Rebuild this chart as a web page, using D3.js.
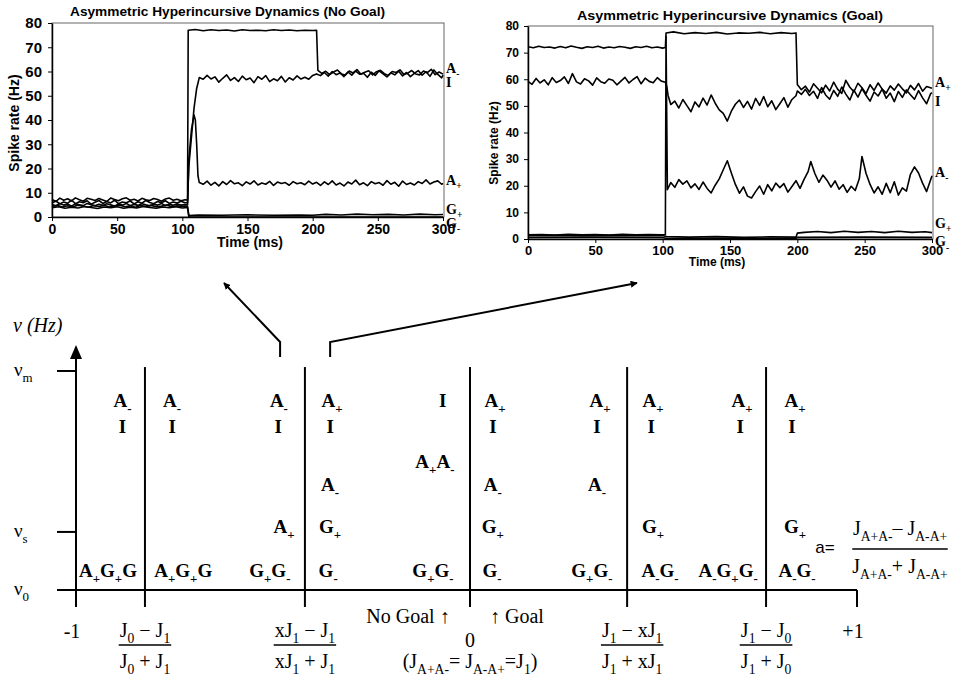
<!DOCTYPE html>
<html lang="en">
<head>
<meta charset="UTF-8">
<title>Asymmetric Hyperincursive Dynamics</title>
<script src="https://d3js.org/d3.v7.min.js"></script>
<style>
  body { margin: 0; background: #fff; }
  svg { display: block; }
  .tick text { font-family: "Liberation Sans", Arial, sans-serif; font-weight: bold; fill: #000; }
  .domain, .tick line { stroke: #000; }
  .trace { fill: none; stroke: #000; stroke-width: 1.6px; stroke-linejoin: round; }
  .serif { font-family: "Liberation Serif", "Times New Roman", serif; }
  .sans { font-family: "Liberation Sans", Arial, sans-serif; }
</style>
</head>
<body>
<svg width="956" height="679"></svg>
<script>
// ---- top-left panel: no goal (time ms, rate Hz) ----
const ngAminus = [[0,7.2],[3,6.4],[6,7.8],[9,6.9],[12,7.5],[15,6.6],[18,7.9],[21,7.1],[24,6.5],[27,7.7],[30,7.3],[33,6.8],[36,7.6],[39,7.0],[42,6.4],[45,7.8],[48,7.2],[51,6.7],[54,7.5],[57,7.9],[60,6.9],[63,7.3],[66,6.6],[69,7.7],[72,7.1],[75,6.8],[78,7.6],[81,7.2],[84,6.5],[87,7.4],[90,7.8],[93,6.9],[96,7.3],[99,6.7],[102,7.1],[104,7.0],[104.5,77],[110,77.3],[116,76.8],[122,77.2],[128,76.9],[134,77.1],[140,76.7],[146,77.2],[152,76.9],[158,77.0],[164,76.8],[170,77.2],[176,76.9],[182,77.1],[188,76.8],[194,77.0],[200,76.9],[203,77],[204,60.5],[207,59.2],[210,60.1],[213,58.7],[216,59.8],[219,60.6],[222,59.0],[225,58.5],[228,60.2],[231,59.4],[234,60.8],[237,58.9],[240,59.7],[243,60.3],[246,58.6],[249,59.9],[252,60.5],[255,59.1],[258,58.4],[261,60.0],[264,59.6],[267,60.7],[270,58.8],[273,59.3],[276,60.4],[279,59.0],[282,58.6],[285,60.2],[288,59.5],[291,60.9],[294,58.7],[297,59.8],[300,58.9]];
const ngI = [[0,5.8],[3,6.6],[6,5.4],[9,6.2],[12,5.7],[15,6.9],[18,5.5],[21,6.3],[24,5.9],[27,6.7],[30,5.3],[33,6.1],[36,6.8],[39,5.6],[42,6.4],[45,5.8],[48,6.9],[51,5.5],[54,6.2],[57,5.9],[60,6.6],[63,5.4],[66,6.3],[69,5.7],[72,6.8],[75,6.0],[78,5.5],[81,6.4],[84,5.9],[87,6.7],[90,5.6],[93,6.2],[96,5.8],[99,6.5],[102,5.9],[104,6],[105,21],[107,33],[109,45],[111,53],[113,57.5],[116,56.8],[119,58.4],[122,56.9],[125,57.8],[128,55.6],[131,57.2],[134,58.6],[137,56.3],[140,57.5],[143,55.9],[146,58.1],[149,56.6],[152,57.3],[155,55.4],[158,57.9],[161,56.8],[164,58.3],[167,55.8],[170,57.0],[173,56.2],[176,58.0],[179,55.7],[182,57.4],[185,56.5],[188,58.2],[191,56.9],[194,57.6],[197,56.8],[200,58.4],[203,59.0],[206,58.3],[209,59.6],[212,58.1],[215,60.0],[218,58.7],[221,59.4],[224,57.9],[227,59.8],[230,58.5],[233,60.2],[236,58.9],[239,59.3],[242,57.6],[245,59.7],[248,58.4],[251,60.3],[254,59.0],[257,57.8],[260,59.5],[263,58.6],[266,60.1],[269,58.2],[272,59.6],[275,57.9],[278,59.2],[281,60.4],[284,58.5],[287,59.9],[290,58.0],[293,60.6],[296,58.8],[299,57.4],[300,58.5]];
const ngAplus = [[0,5.2],[3,4.6],[6,5.6],[9,4.9],[12,5.4],[15,4.5],[18,5.5],[21,5.0],[24,4.7],[27,5.6],[30,5.1],[33,4.6],[36,5.3],[39,4.8],[42,5.5],[45,5.0],[48,4.5],[51,5.4],[54,4.9],[57,5.6],[60,4.7],[63,5.2],[66,4.8],[69,5.5],[72,5.0],[75,4.6],[78,5.3],[81,4.9],[84,5.6],[87,4.7],[90,5.2],[93,4.8],[96,5.4],[99,4.9],[102,5.1],[104,5.0],[105,24],[107,36],[109,42],[110,40],[111,30],[112,17],[113,14.2],[116,13.5],[119,14.8],[122,13.1],[125,14.3],[128,12.8],[131,14.6],[134,13.4],[137,15.0],[140,13.7],[143,14.1],[146,12.9],[149,14.5],[152,13.6],[155,14.9],[158,13.2],[161,14.0],[164,13.5],[167,14.7],[170,13.0],[173,14.4],[176,13.8],[179,14.2],[182,13.1],[185,14.6],[188,13.7],[191,14.1],[194,13.3],[197,14.8],[200,13.6],[203,14.3],[206,13.0],[209,14.5],[212,13.4],[215,14.9],[218,13.2],[221,14.0],[224,12.8],[227,14.4],[230,13.6],[233,15.2],[236,13.3],[239,14.1],[242,12.9],[245,14.6],[248,13.7],[251,14.2],[254,13.1],[257,15.0],[260,13.5],[263,14.3],[266,12.7],[269,14.8],[272,13.4],[275,14.0],[278,13.2],[281,14.6],[284,13.8],[287,15.3],[290,13.6],[293,14.4],[296,14.9],[299,13.5],[300,13.9]];
const ngGplus = [[0,4.3],[4,4.8],[8,4.1],[12,4.6],[16,4.2],[20,4.9],[24,4.4],[28,4.0],[32,4.7],[36,4.3],[40,4.8],[44,4.1],[48,4.5],[52,4.9],[56,4.2],[60,4.6],[64,4.0],[68,4.7],[72,4.3],[76,4.8],[80,4.2],[84,4.5],[88,4.9],[92,4.1],[96,4.6],[100,4.3],[104,4.4],[105,0.6],[112,0.8],[130,0.7],[150,0.9],[170,0.7],[190,0.8],[200,0.7],[210,1.1],[222,0.8],[234,1.2],[246,0.9],[258,1.1],[270,0.8],[282,1.2],[294,0.9],[300,1.0]];
const ngGminus = [[0,3.8],[5,4.2],[10,3.6],[15,4.0],[20,3.7],[25,4.3],[30,3.9],[35,3.5],[40,4.1],[45,3.8],[50,4.2],[55,3.6],[60,4.0],[65,3.7],[70,4.3],[75,3.9],[80,3.6],[85,4.1],[90,3.8],[95,4.2],[100,3.7],[104,3.9],[105,0],[300,0]];

// ---- top-right panel: goal ----
const gAplus = [[0,72.2],[4,71.8],[8,72.4],[12,71.9],[16,72.1],[20,71.7],[24,72.3],[28,71.8],[32,72.5],[36,72.0],[40,71.6],[44,72.2],[48,71.9],[52,72.4],[56,71.7],[60,72.1],[64,71.8],[68,72.3],[72,72.0],[76,71.6],[80,72.2],[84,71.9],[88,72.4],[92,71.8],[96,72.1],[100,71.7],[102,71.9],[102.5,77.4],[108,77.8],[116,77.1],[124,77.5],[132,77.2],[140,77.6],[148,77.0],[156,77.4],[164,77.3],[172,77.6],[180,77.1],[188,77.5],[196,77.2],[199,77.4],[200,58],[203,56.1],[206,57.4],[209,55.2],[212,58.3],[215,56.6],[218,54.9],[221,57.8],[224,55.6],[227,58.9],[230,56.2],[233,54.7],[236,59.6],[239,57.0],[242,55.3],[245,58.5],[248,56.8],[251,54.6],[254,57.9],[257,55.8],[260,58.6],[263,56.3],[266,54.8],[269,57.5],[272,55.9],[275,58.2],[278,56.4],[281,54.9],[284,57.7],[287,56.0],[290,58.4],[293,55.5],[296,57.3],[300,56.6]];
const gI = [[0,59.2],[3,58.1],[6,60.3],[9,58.6],[12,59.8],[15,57.9],[18,60.6],[21,58.8],[24,59.5],[27,60.9],[30,58.4],[33,62.1],[36,59.0],[39,58.2],[42,60.2],[45,59.4],[48,57.8],[51,60.5],[54,59.1],[57,58.5],[60,60.1],[63,59.6],[66,57.9],[69,59.3],[72,60.7],[75,58.6],[78,59.9],[81,61.0],[84,58.3],[87,60.4],[90,59.2],[93,58.7],[96,60.6],[99,59.3],[102,58.9],[103,57.5],[104,54],[106,50.5],[109,51.8],[112,49.2],[115,52.4],[118,50.1],[121,47.8],[124,51.5],[127,49.6],[130,52.9],[133,50.3],[136,54.1],[139,51.0],[142,48.5],[145,47.2],[148,44.3],[151,48.0],[154,50.6],[157,52.2],[160,49.4],[163,51.7],[166,48.8],[169,52.8],[172,50.2],[175,53.5],[178,49.7],[181,51.9],[184,48.6],[187,50.8],[190,53.1],[193,49.5],[196,52.4],[199,53.8],[200,55.6],[203,54.3],[206,56.2],[209,53.9],[212,55.5],[215,52.8],[218,56.9],[221,54.1],[224,52.5],[227,55.8],[230,53.6],[233,57.1],[236,54.4],[239,52.2],[242,55.9],[245,53.3],[248,56.5],[251,54.0],[254,51.8],[257,55.2],[260,53.7],[263,56.3],[266,52.9],[269,54.8],[272,51.6],[275,55.4],[278,53.2],[281,56.0],[284,54.2],[287,52.5],[290,55.7],[293,53.0],[296,50.8],[299,54.6],[300,55.0]];
const gAminus = [[0,1.6],[10,1.7],[20,1.5],[30,1.8],[40,1.6],[50,1.7],[60,1.5],[70,1.8],[80,1.6],[90,1.7],[100,1.6],[102,1.7],[102.5,76],[103.5,18.5],[106,21.2],[109,19.4],[112,22.3],[115,20.6],[118,21.8],[121,19.2],[124,20.7],[127,18.6],[130,21.4],[133,19.0],[136,17.3],[139,20.2],[142,22.6],[145,26.0],[148,29.4],[151,24.8],[154,20.5],[157,17.2],[160,19.6],[163,16.1],[166,15.4],[169,17.8],[172,19.9],[175,16.8],[178,20.4],[181,18.1],[184,21.0],[187,19.3],[190,20.8],[193,17.6],[196,19.7],[199,21.9],[202,19.0],[205,22.4],[208,25.3],[210,29.1],[213,24.6],[216,21.3],[219,24.0],[222,22.1],[225,19.5],[228,21.8],[231,18.7],[234,20.4],[237,17.5],[240,19.8],[243,18.2],[246,22.6],[248,31.0],[251,24.7],[254,20.5],[257,17.3],[260,19.6],[263,16.8],[266,20.9],[269,17.4],[272,21.5],[275,16.5],[278,19.2],[281,18.0],[284,24.3],[287,27.1],[290,24.8],[293,21.0],[296,17.8],[300,23.8]];
const gGplus = [[0,1.3],[20,1.4],[40,1.2],[60,1.4],[80,1.3],[100,1.3],[103,0.9],[120,0.7],[140,0.9],[160,0.6],[180,0.8],[199,0.7],[200,2.2],[205,2.5],[215,2.8],[225,2.4],[235,2.9],[245,2.5],[255,2.8],[265,2.4],[275,2.9],[285,2.5],[295,2.7],[300,2.4]];
const gGminus = [[0,0.6],[50,0.7],[100,0.6],[103,0.2],[150,0.3],[199,0.2],[200,0.6],[250,0.7],[300,0.6]];

const timeTicks = [0, 50, 100, 150, 200, 250, 300];
const rateTicks = [0, 10, 20, 30, 40, 50, 60, 70, 80];
// trace end labels: [rate level, label]
const ngLabels = [[59.4, "A_-"], [53.6, "I"], [13.2, "A_+"], [1.2, "G_+"], [-4.6, "G_-"]];
const gLabels = [[57.1, "A_+"], [50.0, "I"], [23.3, "A_-"], [4.2, "G_+"], [-2.8, "G_-"]];

// ---- bottom diagram: asymmetry a in [-1, 1], rate levels ----
const dividers = [-0.825, -0.419, 0, 0.406, 0.765];
const rateLevels = [["ν_m", 8.94], ["ν_s", 2.37], ["ν_0", 0]];
const stateLabels = [
  [-0.882, 7.47, "A_-"], [-0.882, 6.41, "I"], [-0.919, 0.53, "A_+G_+G"],
  [-0.756, 7.47, "A_-"], [-0.756, 6.41, "I"], [-0.728, 0.53, "A_+G_+G"],
  [-0.485, 7.47, "A_-"], [-0.487, 6.41, "I"], [-0.472, 2.33, "A_+"], [-0.508, 0.53, "G_+G_-"],
  [-0.350, 7.47, "A_+"], [-0.355, 6.41, "I"], [-0.355, 4.04, "A_-"], [-0.355, 2.33, "G_+"], [-0.360, 0.53, "G_-"],
  [-0.069, 7.47, "I"], [-0.089, 4.98, "A_+A_-"], [-0.094, 0.53, "G_+G_-"],
  [0.065, 7.47, "A_+"], [0.059, 6.41, "I"], [0.059, 4.04, "A_-"], [0.059, 2.33, "G_+"], [0.057, 0.53, "G_-"],
  [0.336, 7.47, "A_+"], [0.328, 6.41, "I"], [0.328, 4.04, "A_-"], [0.315, 0.53, "G_+G_-"],
  [0.473, 7.47, "A_+"], [0.468, 6.41, "I"], [0.473, 2.33, "G_+"], [0.491, 0.53, "A_-G_-"],
  [0.703, 7.47, "A_+"], [0.698, 6.41, "I"], [0.667, 0.53, "A_-G_+G_-"],
  [0.840, 7.47, "A_+"], [0.832, 6.41, "I"], [0.840, 2.33, "G_+"], [0.845, 0.53, "A_-G_-"]
];
// fraction labels under the axis: [a, numerator, denominator]
const boundaryLabels = [
  [-0.825, "J_0 − J_1", "J_0 + J_1"],
  [-0.419, "xJ_1 − J_1", "xJ_1 + J_1"],
  [0.419, "J_1 − xJ_1", "J_1 + xJ_1"],
  [0.765, "J_1 − J_0", "J_1 + J_0"]
];
const endLabels = [[-1, "-1"], [1, "+1"]];

const svg = d3.select("svg");

// text with _x / _{xyz} subscripts
function rich(t, str, fs) {
  const toks = [];
  for (let i = 0; i < str.length; i++) {
    if (str[i] === "_") {
      if (str[i + 1] === "{") {
        const j = str.indexOf("}", i);
        toks.push({ t: str.slice(i + 2, j), sub: true });
        i = j;
      } else {
        toks.push({ t: str[i + 1], sub: true });
        i++;
      }
    } else {
      const last = toks[toks.length - 1];
      if (last && !last.sub) last.t += str[i];
      else toks.push({ t: str[i], sub: false });
    }
  }
  let cur = false;
  toks.forEach(k => {
    const ts = t.append("tspan").text(k.t);
    if (k.sub !== cur) ts.attr("dy", k.sub ? fs * 0.3 : -fs * 0.3);
    if (k.sub) ts.attr("font-size", fs * 0.68);
    cur = k.sub;
  });
  return t;
}

function panel(p) {
  const x = d3.scaleLinear().domain([0, 300]).range([p.x0, p.x1]);
  const y = d3.scaleLinear().domain([0, 80]).range([p.y0, p.y1]);
  const g = svg.append("g");

  // frame
  g.append("rect")
    .attr("x", p.x0).attr("y", p.y1)
    .attr("width", p.x1 - p.x0 + 1).attr("height", p.y0 - p.y1)
    .attr("fill", "none").attr("stroke", "#666").attr("stroke-width", 1);

  const line = d3.line().x(d => x(d[0])).y(d => y(d[1]));
  p.series.forEach(s => {
    g.append("path").attr("class", "trace").attr("d", line(s));
  });

  const ax = g.append("g").attr("transform", `translate(0,${p.y0})`)
    .call(d3.axisBottom(x).tickValues(timeTicks).tickSize(4).tickSizeOuter(0).tickPadding(3));
  ax.selectAll("text").attr("font-size", p.xfs);
  const ay = g.append("g").attr("transform", `translate(${p.x0},0)`)
    .call(d3.axisLeft(y).tickValues(rateTicks).tickSize(4).tickSizeOuter(0).tickPadding(p.ypad));
  ay.selectAll("text").attr("font-size", p.yfs);
  g.selectAll(".domain").attr("stroke-width", 1.5);

  g.append("text").attr("class", "sans")
    .attr("x", (p.x0 + p.x1) / 2 + p.titleDx).attr("y", p.titleY)
    .attr("text-anchor", "middle").attr("font-weight", "bold").attr("font-size", 13)
    .attr("textLength", p.titleW).attr("lengthAdjust", "spacingAndGlyphs")
    .text(p.title);

  g.append("text").attr("class", "sans")
    .attr("transform", `translate(${p.ylabX},${p.ylabY}) rotate(-90)`)
    .attr("text-anchor", "middle").attr("font-weight", "bold").attr("font-size", p.ylabFs)
    .text("Spike rate (Hz)");

  g.append("text").attr("class", "sans")
    .attr("x", p.xlabX).attr("y", p.xlabY)
    .attr("text-anchor", "middle").attr("font-weight", "bold").attr("font-size", p.xlabFs)
    .text("Time (ms)");

  p.labels.forEach(l => {
    rich(g.append("text").attr("class", "serif")
      .attr("x", p.x1 + 3).attr("y", y(l[0]))
      .attr("font-weight", "bold").attr("font-size", 14), l[1], 14);
  });
}

panel({
  x0: 52, x1: 443, y0: 217, y1: 23,
  series: [ngAminus, ngI, ngAplus, ngGplus, ngGminus],
  labels: ngLabels,
  xfs: 14, yfs: 15, ypad: 6,
  title: "Asymmetric Hyperincursive Dynamics (No Goal)", titleDx: -20, titleY: 16, titleW: 315,
  ylabX: 19, ylabY: 123, ylabFs: 14,
  xlabX: 250, xlabY: 247, xlabFs: 14
});
panel({
  x0: 528, x1: 932, y0: 239, y1: 26,
  series: [gAplus, gI, gAminus, gGplus, gGminus],
  labels: gLabels,
  xfs: 13, yfs: 12, ypad: 5,
  title: "Asymmetric Hyperincursive Dynamics (Goal)", titleDx: 0, titleY: 20, titleW: 306,
  ylabX: 498, ylabY: 143, ylabFs: 12,
  xlabX: 717, xlabY: 266, xlabFs: 12
});

// ---- bottom diagram ----
const xA = d3.scaleLinear().domain([-1, 0, 1]).range([76, 470, 857]);
const yN = d3.scaleLinear().domain([0, 10]).range([590, 345]);
const dg = svg.append("g").attr("stroke", "#000").attr("stroke-width", 2);
const below = 607;

// vertical rate axis with arrow
dg.append("line").attr("x1", xA(-1)).attr("x2", xA(-1)).attr("y1", yN(10) + 10).attr("y2", below);
dg.append("path").attr("fill", "#000").attr("stroke", "none")
  .attr("d", `M${xA(-1)},${yN(10)} L${xA(-1) - 6},${yN(10) + 14} L${xA(-1) + 6},${yN(10) + 14} Z`);
// horizontal a axis
dg.append("line").attr("x1", 57).attr("x2", xA(1)).attr("y1", yN(0)).attr("y2", yN(0));
dg.append("line").attr("x1", xA(1)).attr("x2", xA(1)).attr("y1", yN(0)).attr("y2", below);
// rate ticks
rateLevels.slice(0, 2).forEach(r => {
  dg.append("line").attr("x1", 57).attr("x2", xA(-1)).attr("y1", yN(r[1])).attr("y2", yN(r[1]));
});
// region dividers
dividers.forEach(d => {
  dg.append("line").attr("x1", xA(d)).attr("x2", xA(d)).attr("y1", yN(9.1)).attr("y2", below);
});

// link arrows to the panels
svg.append("defs").append("marker")
  .attr("id", "ah").attr("viewBox", "0 0 10 10").attr("refX", 9).attr("refY", 5)
  .attr("markerWidth", 7).attr("markerHeight", 7).attr("orient", "auto-start-reverse")
  .attr("markerUnits", "userSpaceOnUse")
  .append("path").attr("d", "M0,0 L10,5 L0,10 Z").attr("fill", "#000");
svg.append("path").attr("fill", "none").attr("stroke", "#000").attr("stroke-width", 2)
  .attr("d", `M${xA(-0.482)},357 L${xA(-0.482)},342 L224,283`)
  .attr("marker-end", "url(#ah)");
svg.append("path").attr("fill", "none").attr("stroke", "#000").attr("stroke-width", 2)
  .attr("d", `M${xA(-0.355)},357 L${xA(-0.355)},342 L637,283`)
  .attr("marker-end", "url(#ah)");

// rate labels
svg.append("text").attr("class", "serif").attr("x", 13).attr("y", 332)
  .attr("font-style", "italic").attr("font-size", 20).text("ν (Hz)");
rateLevels.forEach(r => {
  rich(svg.append("text").attr("class", "serif").attr("x", 14).attr("y", yN(r[1]) + 5)
    .attr("font-size", 19), r[0], 19);
});

// state labels
stateLabels.forEach(s => {
  rich(svg.append("text").attr("class", "serif")
    .attr("x", xA(s[0])).attr("y", yN(s[1]))
    .attr("text-anchor", "middle").attr("font-weight", "bold").attr("font-size", 19), s[2], 19);
});

// fraction helper
function fraction(cx, top, num, den, fs) {
  const g = svg.append("g");
  const t1 = rich(g.append("text").attr("class", "serif").attr("x", cx).attr("y", top)
    .attr("text-anchor", "middle").attr("font-size", fs), num, fs);
  const t2 = rich(g.append("text").attr("class", "serif").attr("x", cx).attr("y", top + 31)
    .attr("text-anchor", "middle").attr("font-size", fs), den, fs);
  const w = Math.max(t1.node().getBBox().width, t2.node().getBBox().width) + 2;
  g.append("line").attr("x1", cx - w / 2).attr("x2", cx + w / 2)
    .attr("y1", top + 8).attr("y2", top + 8).attr("stroke", "#000").attr("stroke-width", 1.6);
}

boundaryLabels.forEach(b => fraction(xA(b[0]), 637, b[1], b[2], 20));
endLabels.forEach(e => {
  svg.append("text").attr("class", "serif").attr("x", xA(e[0]) - 4)
    .attr("y", 638).attr("text-anchor", "middle").attr("font-size", 20).text(e[1]);
});

svg.append("text").attr("class", "serif").attr("x", 408).attr("y", 623)
  .attr("text-anchor", "middle").attr("font-size", 20).text("No Goal ↑");
svg.append("text").attr("class", "serif").attr("x", 517).attr("y", 623)
  .attr("text-anchor", "middle").attr("font-size", 20).text("↑ Goal");
svg.append("text").attr("class", "serif").attr("x", xA(0)).attr("y", 647)
  .attr("text-anchor", "middle").attr("font-size", 20).text("0");
rich(svg.append("text").attr("class", "serif").attr("x", xA(0)).attr("y", 668)
  .attr("text-anchor", "middle").attr("font-size", 20), "(J_{A+A-}= J_{A-A+}=J_1)", 20);

// asymmetry definition
svg.append("text").attr("class", "sans").attr("x", 825).attr("y", 553)
  .attr("text-anchor", "middle").attr("font-size", 17).text("a=");
(function () {
  const cx = 900;
  const g = svg.append("g");
  const t1 = rich(g.append("text").attr("class", "serif").attr("x", cx).attr("y", 535)
    .attr("text-anchor", "middle").attr("font-size", 20), "J_{A+A-}– J_{A-A+}", 20);
  const t2 = rich(g.append("text").attr("class", "serif").attr("x", cx).attr("y", 573)
    .attr("text-anchor", "middle").attr("font-size", 20), "J_{A+A-}+ J_{A-A+}", 20);
  const w = Math.max(t1.node().getBBox().width, t2.node().getBBox().width);
  g.append("line").attr("x1", cx - w / 2).attr("x2", cx + w / 2)
    .attr("y1", 549).attr("y2", 549).attr("stroke", "#000").attr("stroke-width", 1.6);
})();
</script>
</body>
</html>
